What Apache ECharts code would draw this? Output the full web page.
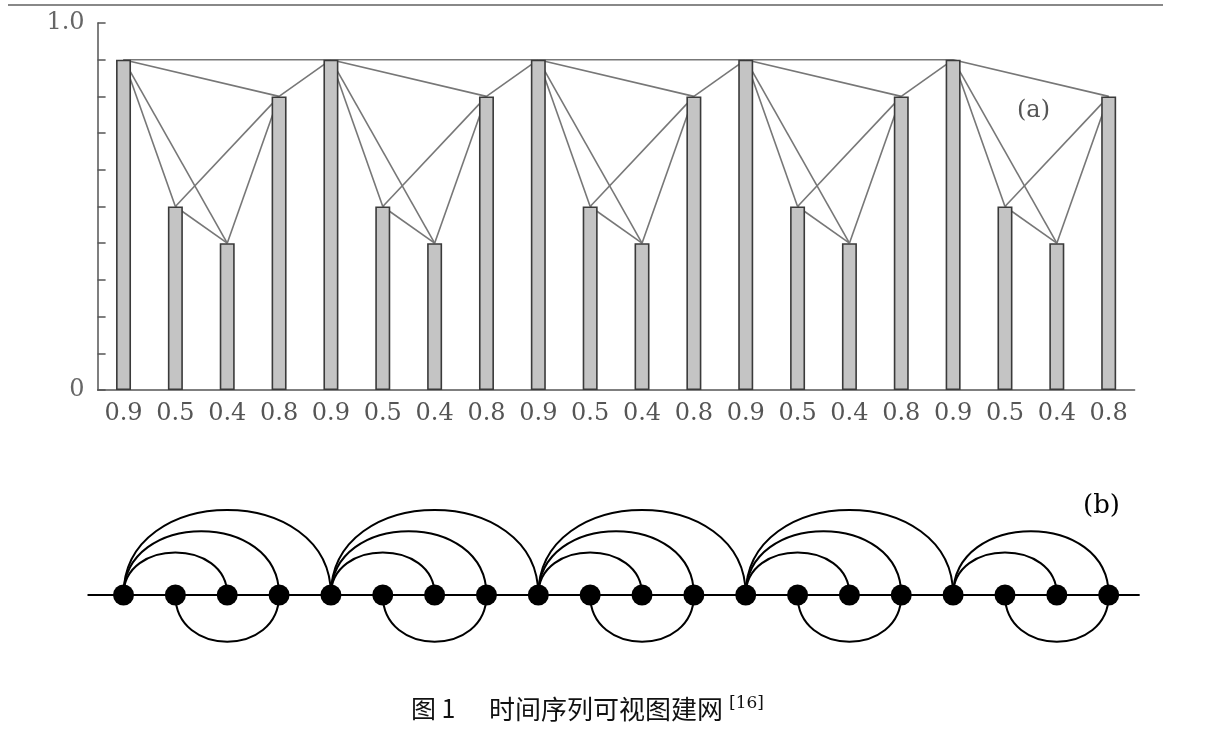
<!DOCTYPE html>
<html>
<head>
<meta charset="utf-8">
<script src="https://cdn.jsdelivr.net/npm/echarts@6/dist/echarts.min.js"></script>
<style>
html,body{margin:0;padding:0;background:#fff;}
#chart{width:1227px;height:740px;}
</style>
</head>
<body>
<div id="chart"></div>
<script>
// ---- data ----
const categories = ['0.9','0.5','0.4','0.8','0.9','0.5','0.4','0.8','0.9','0.5','0.4','0.8','0.9','0.5','0.4','0.8','0.9','0.5','0.4','0.8'];
const values = [0.9,0.5,0.4,0.8,0.9,0.5,0.4,0.8,0.9,0.5,0.4,0.8,0.9,0.5,0.4,0.8,0.9,0.5,0.4,0.8];
const yTickLabels = {0: '0', 1: '1.0'};
// visibility edges (a): pairs of bar indices
const visEdges = [
  [0,1],[0,2],[0,3],[0,4],[1,2],[1,3],[2,3],[3,4],
  [4,5],[4,6],[4,7],[4,8],[5,6],[5,7],[6,7],[7,8],
  [8,9],[8,10],[8,11],[8,12],[9,10],[9,11],[10,11],[11,12],
  [12,13],[12,14],[12,15],[12,16],[13,14],[13,15],[14,15],[15,16],
  [16,17],[16,18],[16,19],[17,18],[17,19],[18,19]
];
// arcs of network (b)
const arcsAbove = [
  [0,2],[0,3],[0,4],
  [4,6],[4,7],[4,8],
  [8,10],[8,11],[8,12],
  [12,14],[12,15],[12,16],
  [16,18],[16,19]
];
const arcsBelow = [[1,3],[5,7],[9,11],[13,15],[17,19]];
const nodes = categories.map((c, i) => [i, 0]);
const captionFig = '图 1';
const captionMain = '时间序列可视图建网';
const captionRef = '[16]';

// ---- chart ----
const chart = echarts.init(document.getElementById('chart'), null, {renderer: 'canvas'});
const serif = 'DejaVu Serif';
const gridLeft = 97.6, gridWidth = 1037;

function arcItem(sign, ratio) {
  return function (params, api) {
    const a = api.coord([api.value(0), 0]);
    const b = api.coord([api.value(1), 0]);
    const h = Math.abs(b[0] - a[0]) / 2 * ratio;
    const cy = a[1] - sign * h * 4 / 3;
    return {
      type: 'bezierCurve',
      shape: {x1: a[0], y1: a[1], x2: b[0], y2: b[1], cpx1: a[0], cpy1: cy, cpx2: b[0], cpy2: cy},
      style: {stroke: '#000', lineWidth: 2, fill: null}
    };
  };
}

const option = {
  animation: false,
  backgroundColor: '#fff',
  grid: [
    {left: gridLeft, width: gridWidth, top: 23, bottom: 350},
    {left: gridLeft, width: gridWidth, top: 495, height: 200}
  ],
  xAxis: [
    {
      type: 'category', gridIndex: 0, data: categories,
      axisLine: {lineStyle: {color: '#555', width: 1.5}},
      axisTick: {show: false},
      axisLabel: {color: '#555', fontFamily: serif, fontSize: 24, margin: 12, interval: 0}
    },
    {
      type: 'category', gridIndex: 1, data: categories, show: false
    }
  ],
  yAxis: [
    {
      type: 'value', gridIndex: 0, min: 0, max: 1, interval: 0.1,
      axisLine: {show: true, lineStyle: {color: '#555', width: 1.5}},
      axisTick: {show: true, inside: true, length: 8, lineStyle: {color: '#555', width: 1.5}},
      splitLine: {show: false},
      axisLabel: {
        color: '#666', fontFamily: serif, fontSize: 24, margin: 13,
        formatter: v => (yTickLabels[Math.round(v * 10) / 10] !== undefined ? yTickLabels[Math.round(v * 10) / 10] : '')
      }
    },
    {type: 'value', gridIndex: 1, min: -1, max: 1, show: false}
  ],
  series: [
    {
      type: 'custom', xAxisIndex: 0, yAxisIndex: 0, z: 1,
      data: visEdges,
      renderItem: function (params, api) {
        const i = api.value(0), j = api.value(1);
        const a = api.coord([i, values[i]]);
        const b = api.coord([j, values[j]]);
        return {
          type: 'line',
          shape: {x1: a[0], y1: a[1], x2: b[0], y2: b[1]},
          style: {stroke: '#777', lineWidth: 1.6}
        };
      }
    },
    {
      type: 'bar', xAxisIndex: 0, yAxisIndex: 0, z: 3,
      data: values, barWidth: 15,
      itemStyle: {color: '#c4c4c4', borderColor: '#3a3a3a', borderWidth: 1.6}
    },
    {
      type: 'custom', xAxisIndex: 1, yAxisIndex: 1, z: 1,
      data: [[0, nodes.length - 1]],
      renderItem: function (params, api) {
        const a = api.coord([api.value(0), 0]);
        const b = api.coord([api.value(1), 0]);
        return {
          type: 'line',
          shape: {x1: a[0] - 36, y1: a[1], x2: b[0] + 31, y2: b[1]},
          style: {stroke: '#000', lineWidth: 2}
        };
      }
    },
    {
      type: 'custom', xAxisIndex: 1, yAxisIndex: 1, z: 2,
      data: arcsAbove, renderItem: arcItem(1, 0.82)
    },
    {
      type: 'custom', xAxisIndex: 1, yAxisIndex: 1, z: 2,
      data: arcsBelow, renderItem: arcItem(-1, 0.9)
    },
    {
      type: 'scatter', xAxisIndex: 1, yAxisIndex: 1, z: 5,
      data: nodes, symbolSize: 21,
      itemStyle: {color: '#000', opacity: 1}
    }
  ],
  graphic: [
    {type: 'line', shape: {x1: 8, y1: 5, x2: 1163, y2: 5}, style: {stroke: '#888', lineWidth: 2}},
    {type: 'text', left: 1017, top: 99, style: {text: '(a)', font: '24px "DejaVu Serif"', fill: '#555'}},
    {type: 'text', left: 1083, top: 493, style: {text: '(b)', font: '26px "DejaVu Serif"', fill: '#000'}},
    {type: 'text', left: 411, top: 696, style: {text: captionFig, font: '25px "Noto Sans CJK SC"', fill: '#111'}},
    {type: 'text', left: 489, top: 696, style: {text: captionMain, font: '26px "Noto Sans CJK SC"', fill: '#111'}},
    {type: 'text', left: 729, top: 695, style: {text: captionRef, font: '17px "DejaVu Serif"', fill: '#111'}}
  ]
};
chart.setOption(option);
</script>
</body>
</html>
